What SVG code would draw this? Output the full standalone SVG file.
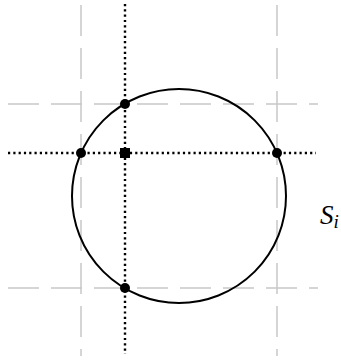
<svg xmlns="http://www.w3.org/2000/svg" width="341" height="360" viewBox="0 0 341 360">
<style>
.grid{stroke:#c8c8c8;stroke-width:1.5;stroke-dasharray:31 12;fill:none}
.dot{stroke:#000;stroke-width:2.4;stroke-dasharray:2.2 3.1;fill:none}
.pt{fill:#000}
.lbl{font-family:"Liberation Serif","DejaVu Serif",serif;font-style:italic;font-size:27px;fill:#000}
</style>
<rect width="341" height="360" fill="#fff"/>
<g id="connectors">
<line class="grid" x1="81" y1="5" x2="81" y2="356"/>
<line class="grid" x1="277" y1="5" x2="277" y2="356"/>
<line class="grid" x1="8" y1="104" x2="318" y2="104"/>
<line class="grid" x1="8" y1="288" x2="318" y2="288"/>
<line class="dot" x1="125" y1="4" x2="125" y2="354"/>
<line class="dot" x1="8" y1="153" x2="316" y2="153"/>
</g>
<g id="circle"><circle cx="179" cy="196" r="107" fill="none" stroke="#000" stroke-width="2"/></g>
<g id="p1"><circle class="pt" cx="125" cy="104" r="5"/></g>
<g id="p2"><circle class="pt" cx="81" cy="153" r="5"/></g>
<g id="p3"><circle class="pt" cx="277" cy="153" r="5"/></g>
<g id="p4"><circle class="pt" cx="125" cy="288" r="5"/></g>
<g id="center"><rect class="pt" x="120" y="148" width="10" height="10"/></g>
<g id="label"><text class="lbl" x="320" y="224">S<tspan font-size="19" dy="4">i</tspan></text></g>
</svg>
